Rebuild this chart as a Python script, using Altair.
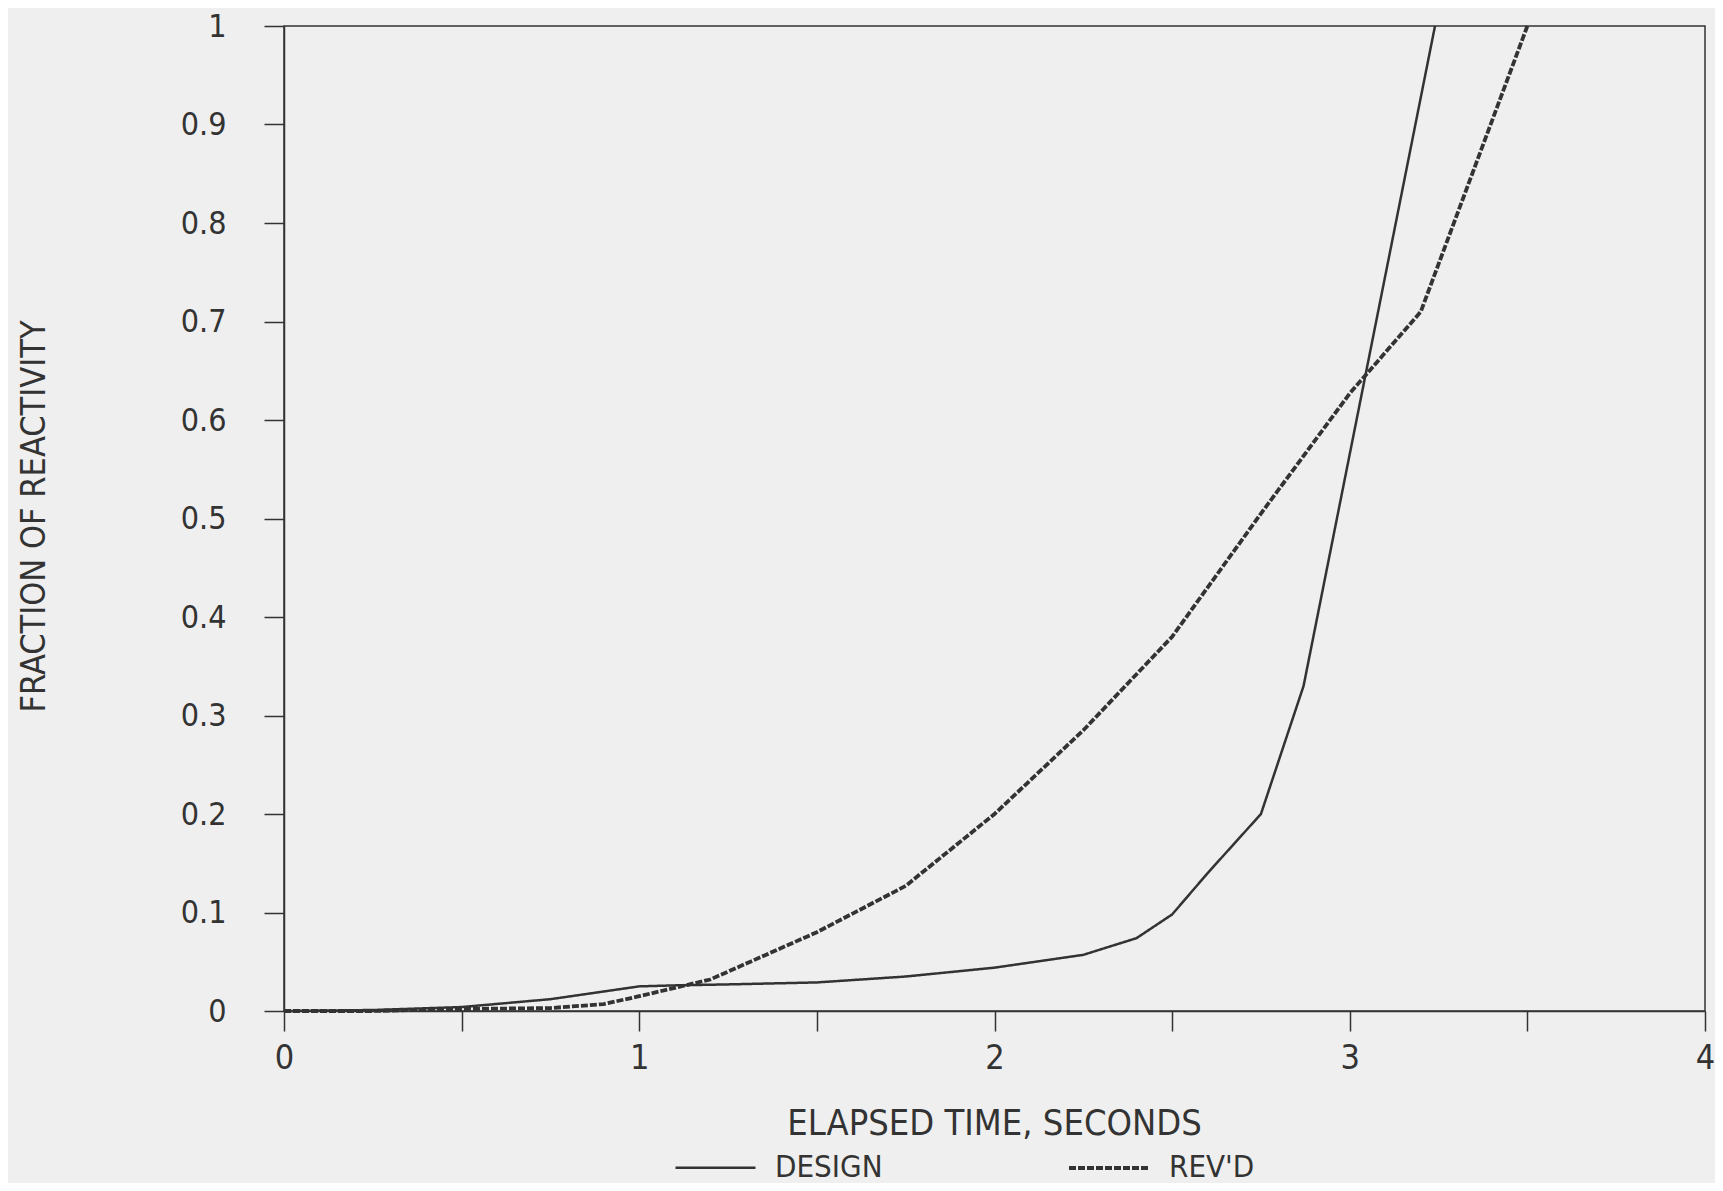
import altair as alt
import pandas as pd

# DESIGN curve (solid)
time_design = [0, 0.25, 0.5, 0.75, 1.0, 1.1, 1.25, 1.5, 1.75, 2.0, 2.25, 2.4, 2.5, 2.6, 2.75, 2.87, 3.24]
frac_design = [0, 0.001, 0.004, 0.012, 0.025, 0.026, 0.027, 0.029, 0.035, 0.044, 0.057, 0.074, 0.098, 0.14, 0.20, 0.33, 1.0]

# REV'D curve (dashed)
time_revd = [0, 0.25, 0.5, 0.75, 0.9, 1.0, 1.2, 1.5, 1.75, 2.0, 2.25, 2.5, 2.75, 3.0, 3.2, 3.5]
frac_revd = [0, 0.0, 0.002, 0.003, 0.007, 0.015, 0.032, 0.08, 0.127, 0.20, 0.285, 0.38, 0.505, 0.627, 0.71, 1.0]

series_names = ["DESIGN", "REV'D"]
x_ticks = [0, 0.5, 1, 1.5, 2, 2.5, 3, 3.5, 4]
y_ticks = [0, 0.1, 0.2, 0.3, 0.4, 0.5, 0.6, 0.7, 0.8, 0.9, 1]

rows = []
for t, f in zip(time_design, frac_design):
    rows.append({"time": t, "frac": f, "series": series_names[0]})
for t, f in zip(time_revd, frac_revd):
    rows.append({"time": t, "frac": f, "series": series_names[1]})
df = pd.DataFrame(rows)

FONT = "Liberation Sans Narrow, DejaVu Sans Condensed, sans-serif"
INK = "#333333"

chart = (
    alt.Chart(df)
    .mark_line(color=INK)
    .encode(
        x=alt.X(
            "time:Q",
            scale=alt.Scale(domain=[0, 4], nice=False, zero=False),
            axis=alt.Axis(
                values=x_ticks,
                format="~g",
                labelExpr="datum.value % 1 == 0 ? datum.label : ''",
                labelFlush=False,
                title="ELAPSED TIME, SECONDS",
                titleX=710,
                titleY=112,
                titleBaseline="middle",
                titleAlign="center",
                tickSize=20,
                labelPadding=10,
                labelFontSize=34,
                titleFontSize=36,
            ),
        ),
        y=alt.Y(
            "frac:Q",
            scale=alt.Scale(domain=[0, 1], nice=False),
            axis=alt.Axis(
                values=y_ticks,
                format="~g",
                labelFlush=False,
                title="FRACTION OF REACTIVITY",
                titleAngle=-90,
                titleX=-250,
                titleY=490,
                titleBaseline="middle",
                titleAlign="center",
                tickSize=20,
                labelPadding=38,
                labelFontSize=32,
                titleFontSize=34,
            ),
        ),
        strokeDash=alt.StrokeDash(
            "series:N",
            scale=alt.Scale(domain=series_names, range=[[1, 0], [7, 2]]),
            legend=alt.Legend(
                title=None,
                orient="none",
                legendX=390,
                legendY=1100,
                direction="horizontal",
                symbolType="stroke",
                symbolSize=6400,
                symbolStrokeColor=INK,
                symbolStrokeWidth=2.5,
                labelFontSize=31,
                labelFont=FONT,
                labelColor=INK,
                labelOffset=18,
                labelLimit=400,
                columnPadding=178,
            ),
        ),
        strokeWidth=alt.StrokeWidth(
            "series:O",
            scale=alt.Scale(domain=series_names, range=[2.5, 3.8]),
            legend=None,
        ),
    )
    .properties(
        width=1421,
        height=985,
        background="#efefef",
        padding={"left": 276, "top": 18, "right": 10, "bottom": 172},
        autosize=alt.AutoSizeParams(type="none"),
    )
    .configure_view(stroke=INK, strokeWidth=1.5)
    .configure_axis(
        grid=False,
        domainColor=INK,
        domainWidth=1.5,
        tickColor=INK,
        tickWidth=1.5,
        labelColor=INK,
        titleColor=INK,
        labelFont=FONT,
        titleFont=FONT,
        titleFontWeight="normal",
    )
)

chart.save("out.html", embed_options={"renderer": "svg", "actions": False})
